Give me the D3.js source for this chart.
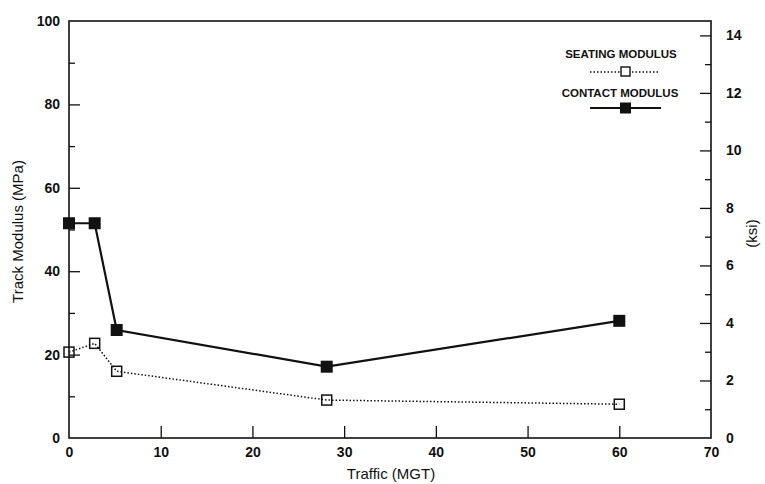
<!DOCTYPE html>
<html><head><meta charset="utf-8">
<script src="https://cdn.jsdelivr.net/npm/d3@7/dist/d3.min.js"></script>
<style>body{margin:0;background:#fff}svg{display:block}text{font-family:"Liberation Sans",Arial,Helvetica,sans-serif;fill:#111}</style>
</head><body><svg id="c" width="765" height="484"></svg>
<script>
const traffic = [0, 2.8, 5.2, 28.1, 60];
const contactModulus = [51.5, 51.5, 25.9, 17.1, 28.1];
const seatingModulus = [20.6, 22.7, 16.0, 9.1, 8.1];
const xTicks = [0, 10, 20, 30, 40, 50, 60, 70];
const yTicks = [0, 20, 40, 60, 80, 100];
const yMinor = [10, 30, 50, 70, 90];
const ksiTicks = [0, 2, 4, 6, 8, 10, 12, 14];
const ksiMinor = [1, 3, 5, 7, 9, 11, 13];
const seriesNames = ["SEATING MODULUS", "CONTACT MODULUS"];

const svg = d3.select("#c");
const L = 69, R = 711, T = 21, B = 438;
const x = d3.scaleLinear().domain([0, 70]).range([L, R]);
const y = d3.scaleLinear().domain([0, 100]).range([B, T]);
const yk = d3.scaleLinear().domain([0, 14.5]).range([B, T]);

// frame
svg.append("rect").attr("x", L).attr("y", T).attr("width", R - L).attr("height", B - T)
  .attr("fill", "none").attr("stroke", "#111").attr("stroke-width", 1.6);

function styleAxis(g) {
  g.select(".domain").remove();
  g.selectAll(".tick line").attr("stroke", "#111").attr("stroke-width", 1.3);
  g.selectAll(".tick text").attr("font-size", 14).attr("font-weight", "bold").attr("fill", "#111");
}
// bottom axis (ticks inward)
const gx = svg.append("g").attr("transform", `translate(0,${B})`)
  .call(d3.axisBottom(x).tickValues(xTicks).tickSize(-12).tickPadding(9).tickFormat(d3.format("d")));
styleAxis(gx);
gx.selectAll(".tick line").filter(d => d === 0 || d === 70).remove();

// left axis
const gy = svg.append("g").attr("transform", `translate(${L},0)`)
  .call(d3.axisLeft(y).tickValues(yTicks).tickSize(-11).tickPadding(9).tickFormat(d3.format("d")));
styleAxis(gy);
gy.selectAll(".tick line").filter(d => d === 0 || d === 100).remove();
const gym = svg.append("g").attr("transform", `translate(${L},0)`)
  .call(d3.axisLeft(y).tickValues(yMinor).tickSize(-6).tickFormat(""));
styleAxis(gym);

// right axis
const gr = svg.append("g").attr("transform", `translate(${R},0)`)
  .call(d3.axisRight(yk).tickValues(ksiTicks).tickSize(-11).tickPadding(15).tickFormat(d3.format("d")));
styleAxis(gr);
gr.selectAll(".tick line").filter(d => d === 0).remove();
const grm = svg.append("g").attr("transform", `translate(${R},0)`)
  .call(d3.axisRight(yk).tickValues(ksiMinor).tickSize(-6).tickFormat(""));
styleAxis(grm);

// axis titles
svg.append("text").attr("transform", `translate(23,${(T + B) / 2 + 2}) rotate(-90)`)
  .attr("text-anchor", "middle").attr("font-size", 15).text("Track Modulus (MPa)");
svg.append("text").attr("x", 391).attr("y", 479)
  .attr("text-anchor", "middle").attr("font-size", 15).text("Traffic (MGT)");
svg.append("text").attr("transform", `translate(757,${(T + B) / 2 + 4}) rotate(-90)`)
  .attr("text-anchor", "middle").attr("font-size", 15).text("(ksi)");

const line = d3.line().x(d => x(d[0])).y(d => y(d[1]));
const seat = traffic.map((t, i) => [t, seatingModulus[i]]);
const cont = traffic.map((t, i) => [t, contactModulus[i]]);

svg.append("path").datum(seat).attr("d", line).attr("fill", "none")
  .attr("stroke", "#111").attr("stroke-width", 1.5).attr("stroke-dasharray", "1.5,2");
svg.append("path").datum(cont).attr("d", line).attr("fill", "none")
  .attr("stroke", "#111").attr("stroke-width", 2.2);

const hs = 10, fs = 12;
svg.selectAll(".sm").data(seat).enter().append("rect")
  .attr("x", d => x(d[0]) - hs / 2).attr("y", d => y(d[1]) - hs / 2)
  .attr("width", hs).attr("height", hs).attr("fill", "#fff").attr("fill-opacity", 0)
  .attr("stroke", "#111").attr("stroke-width", 1.5);
svg.selectAll(".cm").data(cont).enter().append("rect")
  .attr("x", d => x(d[0]) - fs / 2).attr("y", d => y(d[1]) - fs / 2)
  .attr("width", fs).attr("height", fs).attr("fill", "#111");

// legend
const lg = svg.append("g");
lg.append("text").attr("x", 621).attr("y", 58).attr("text-anchor", "middle")
  .attr("font-size", 11.5).attr("font-weight", "bold").text(seriesNames[0]);
lg.append("line").attr("x1", 590).attr("x2", 660).attr("y1", 72).attr("y2", 72)
  .attr("stroke", "#111").attr("stroke-width", 1.3).attr("stroke-dasharray", "1.5,2");
lg.append("rect").attr("x", 621).attr("y", 67).attr("width", 9).attr("height", 9)
  .attr("fill", "#fff").attr("stroke", "#111").attr("stroke-width", 1.4);
lg.append("text").attr("x", 620).attr("y", 97).attr("text-anchor", "middle")
  .attr("font-size", 11.5).attr("font-weight", "bold").text(seriesNames[1]);
lg.append("line").attr("x1", 590).attr("x2", 661).attr("y1", 108).attr("y2", 108)
  .attr("stroke", "#111").attr("stroke-width", 1.8);
lg.append("rect").attr("x", 620).attr("y", 102.5).attr("width", 11).attr("height", 11)
  .attr("fill", "#111");
</script></body></html>
